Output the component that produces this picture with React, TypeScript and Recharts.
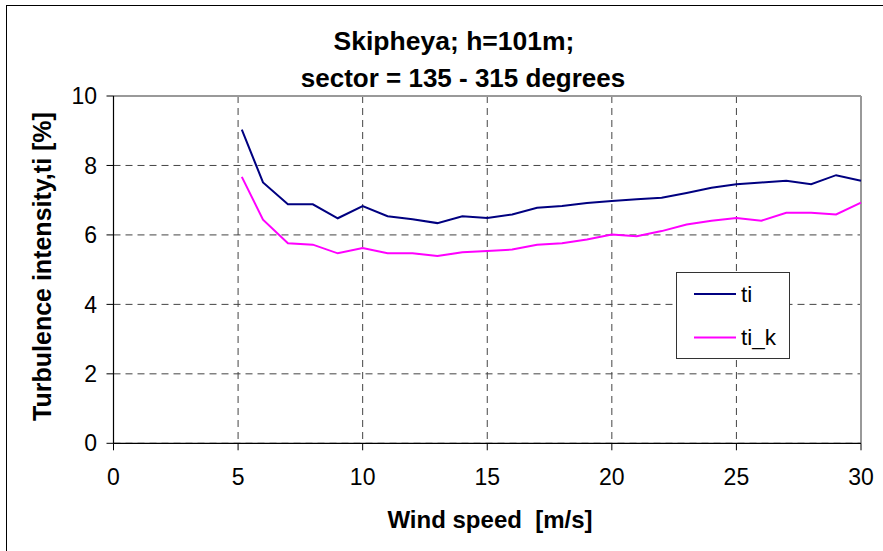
import React from 'react';
import {
  LineChart,
  Line,
  XAxis,
  YAxis,
  CartesianGrid,
  ReferenceLine,
  Legend,
  Customized,
} from 'recharts';

const windSpeed = [5.15, 6, 7, 8, 9, 10, 11, 12, 13, 14, 15, 16, 17, 18, 19, 20, 21, 22, 23, 24, 25, 26, 27, 28, 29, 30];
const tiValues = [9.03, 7.51, 6.88, 6.88, 6.48, 6.83, 6.54, 6.45, 6.34, 6.54, 6.49, 6.59, 6.78, 6.83, 6.92, 6.98, 7.03, 7.07, 7.21, 7.36, 7.46, 7.51, 7.56, 7.46, 7.72, 7.56];
const tiKValues = [7.67, 6.44, 5.76, 5.72, 5.47, 5.62, 5.47, 5.47, 5.39, 5.5, 5.54, 5.58, 5.72, 5.76, 5.87, 6.01, 5.96, 6.11, 6.3, 6.41, 6.49, 6.41, 6.64, 6.64, 6.59, 6.93];
const xTicks = [0, 5, 10, 15, 20, 25, 30];
const yTicks = [0, 2, 4, 6, 8, 10];

const seriesNames = ['ti', 'ti_k'];
const seriesColors = ['#000080', '#FF00FF'];

const titleLine1 = 'Skipheya; h=101m;';
const titleLine2 = 'sector = 135 - 315 degrees';
const xTitle = 'Wind speed  [m/s]';
const yTitle = 'Turbulence intensity,ti [%]';

const data = windSpeed.map((w, i) => ({ ws: w, ti: tiValues[i], ti_k: tiKValues[i] }));

const FONT = '"Liberation Sans", Arial, Helvetica, sans-serif';

const Decorations = () => (
  <g fontFamily={FONT}>
    <rect x={6.5} y={5.5} width={1000} height={1000} fill="none" stroke="#000" strokeWidth={1} />
    <text x={454} y={50} textAnchor="middle" fontSize={26.5} fontWeight="bold" fill="#000">
      {titleLine1}
    </text>
    <text x={463} y={86.5} textAnchor="middle" fontSize={26} fontWeight="bold" fill="#000">
      {titleLine2}
    </text>
    <text x={490} y={528} textAnchor="middle" fontSize={24} fontWeight="bold" fill="#000" style={{ whiteSpace: 'pre' }}>
      {xTitle}
    </text>
    <text
      transform="translate(51,266.5) rotate(-90)"
      x={0}
      y={0}
      textAnchor="middle"
      fontSize={25}
      fontWeight="bold"
      fill="#000"
    >
      {yTitle}
    </text>
  </g>
);

const LegendBox = () => (
  <svg width={114} height={88} style={{ display: 'block', fontFamily: FONT }}>
    <rect x={0.5} y={0.5} width={113} height={86} fill="#fff" stroke="#333" strokeWidth={1} />
    {seriesNames.map((name, i) => (
      <g key={name}>
        <line x1={18} x2={60} y1={22 + i * 43.5} y2={22 + i * 43.5} stroke={seriesColors[i]} strokeWidth={2} />
        <text x={65} y={22 + i * 43.5} dy="0.35em" fontSize={22.5} fill="#000">
          {name}
        </text>
      </g>
    ))}
  </svg>
);

export default function App() {
  return (
    <div style={{ position: 'absolute', left: 0, top: 0, width: 883, height: 551, background: '#fff' }}>
      <LineChart
        width={883}
        height={551}
        data={data}
        margin={{ top: 96, right: 22, bottom: 77.7, left: 33.5 }}
        style={{ fontFamily: FONT }}
      >
        <CartesianGrid stroke="#444" strokeDasharray="7 5" strokeWidth={1} />
        <XAxis
          dataKey="ws"
          type="number"
          domain={[0, 30]}
          ticks={xTicks}
          interval={0}
          height={30}
          tickSize={7}
          tickMargin={18}
          axisLine={{ stroke: '#000', strokeWidth: 1.2 }}
          tickLine={{ stroke: '#000' }}
          tick={{ fill: '#000', fontSize: 23, fontFamily: FONT }}
        />
        <YAxis
          type="number"
          domain={[0, 10]}
          ticks={yTicks}
          interval={0}
          width={80}
          tickSize={7}
          tickMargin={9.5}
          axisLine={{ stroke: '#000', strokeWidth: 1.2 }}
          tickLine={{ stroke: '#000' }}
          tick={{ fill: '#000', fontSize: 23, fontFamily: FONT }}
        />
        <ReferenceLine y={10} stroke="#999" strokeWidth={2} />
        <ReferenceLine x={30} stroke="#999" strokeWidth={2} />
        <Line
          dataKey="ti"
          name="ti"
          type="linear"
          stroke={seriesColors[0]}
          strokeWidth={2}
          dot={false}
          isAnimationActive={false}
        />
        <Line
          dataKey="ti_k"
          name="ti_k"
          type="linear"
          stroke={seriesColors[1]}
          strokeWidth={2}
          dot={false}
          isAnimationActive={false}
        />
        <Legend
          layout="vertical"
          align="center"
          verticalAlign="middle"
          content={() => <LegendBox />}
          wrapperStyle={{ position: 'absolute', left: 676, top: 272, width: 114, height: 88 }}
        />
        <Customized component={Decorations} />
      </LineChart>
    </div>
  );
}
